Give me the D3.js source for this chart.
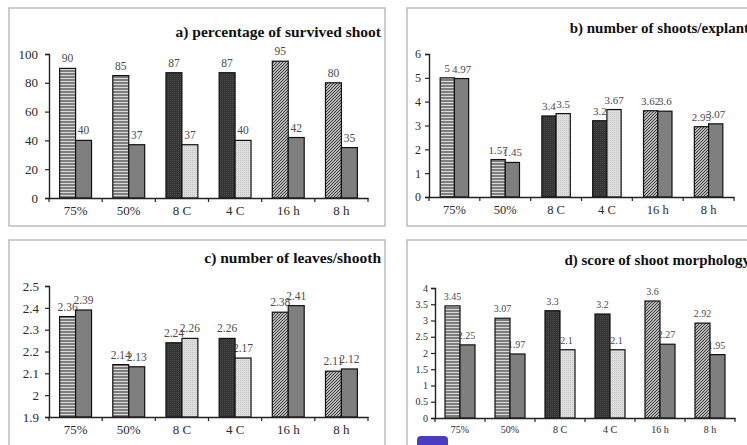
<!DOCTYPE html>
<html>
<head>
<meta charset="utf-8">
<script src="https://cdn.jsdelivr.net/npm/d3@7"></script>
<style>
  body { margin: 0; background: #fff; }
  svg { display: block; }
</style>
</head>
<body>
<div id="chart"></div>
<script>
// treatments on the x axis
var categories = ["75%", "50%", "8 C", "4 C", "16 h", "8 h"]

// a) percentage of survived shoot
var survivedFirst = [90, 85, 87, 87, 95, 80]
var survivedSecond = [40, 37, 37, 40, 42, 35]
var survivedTicks = [0, 20, 40, 60, 80, 100]

// b) number of shoots/explant
var shootsFirst = [5, 1.57, 3.4, 3.2, 3.62, 2.95]
var shootsSecond = [4.97, 1.45, 3.5, 3.67, 3.6, 3.07]
var shootsTicks = [0, 1, 2, 3, 4, 5, 6]

// c) number of leaves/shooth
var leavesFirst = [2.36, 2.14, 2.24, 2.26, 2.38, 2.11]
var leavesSecond = [2.39, 2.13, 2.26, 2.17, 2.41, 2.12]
var leavesTicks = [1.9, 2, 2.1, 2.2, 2.3, 2.4, 2.5]

// d) score of shoot morphology
var morphFirst = [3.45, 3.07, 3.3, 3.2, 3.6, 2.92]
var morphSecond = [2.25, 1.97, 2.1, 2.1, 2.27, 1.95]
var morphTicks = [0, 0.5, 1, 1.5, 2, 2.5, 3, 3.5, 4]

var w = 747
var h = 445

var svg = d3.select("#chart")
            .append("svg")
            .attr("width", w)
            .attr("height", h)

// bar fills
var defs = svg.append("defs")

var hs = defs.append("pattern").attr("id", "hstripe")
    .attr("width", 4).attr("height", 3).attr("patternUnits", "userSpaceOnUse")
hs.append("rect").attr("width", 4).attr("height", 3).attr("fill", "#7e7e7e")
hs.append("rect").attr("width", 4).attr("height", 1).attr("fill", "#d8d8d8")

var dk = defs.append("pattern").attr("id", "dark")
    .attr("width", 2).attr("height", 2).attr("patternUnits", "userSpaceOnUse")
dk.append("rect").attr("width", 2).attr("height", 2).attr("fill", "#353535")
dk.append("rect").attr("width", 1).attr("height", 1).attr("fill", "#4a4a4a")

var dg = defs.append("pattern").attr("id", "diag")
    .attr("width", 3).attr("height", 3).attr("patternUnits", "userSpaceOnUse")
dg.append("rect").attr("width", 3).attr("height", 3).attr("fill", "#f2f2f2")
dg.append("path").attr("d", "M-1,1 L1,-1 M0,3 L3,0 M2,4 L4,2")
  .attr("stroke", "#2e2e2e").attr("stroke-width", 1.1)

var lt = defs.append("pattern").attr("id", "light")
    .attr("width", 2).attr("height", 2).attr("patternUnits", "userSpaceOnUse")
lt.append("rect").attr("width", 2).attr("height", 2).attr("fill", "#dedede")
lt.append("rect").attr("width", 1).attr("height", 1).attr("fill", "#c6c6c6")

var firstFill = ["url(#hstripe)", "url(#hstripe)", "url(#dark)", "url(#dark)", "url(#diag)", "url(#diag)"]
var secondFill = ["#7f7f7f", "#7f7f7f", "url(#light)", "url(#light)", "#7f7f7f", "#7f7f7f"]

var serif = "'Times New Roman', 'Liberation Serif', 'DejaVu Serif', 'Noto Serif', Times, serif"

function panel (p) {
  var g = svg.append("g")

  // frame
  g.append("rect")
   .attr("x", p.box[0]).attr("y", p.box[1])
   .attr("width", p.box[2]).attr("height", p.box[3])
   .attr("fill", "#fff")
   .attr("stroke", "#bdbdbd")
   .attr("stroke-width", 1.5)

  g.append("text")
   .text(p.title)
   .attr("x", p.titleX).attr("y", p.titleY)
   .attr("text-anchor", "end")
   .style("font-family", serif)
   .attr("font-weight", "bold")
   .attr("font-size", p.titleSize + "px")
   .attr("fill", "#111")

  var x = d3.scaleBand()
      .domain(categories)
      .range(p.xRange)
      .paddingInner(p.pad)
      .paddingOuter(p.pad / 2)

  var y = d3.scaleLinear()
      .domain(p.domain)
      .range(p.yRange)

  var half = x.bandwidth() / 2

  var rows = categories.map((c, i) => ({ c: c, i: i, a: p.first[i], b: p.second[i] }))

  // value labels (bars are drawn over them)
  g.selectAll(".la")
   .data(rows).enter()
   .append("text")
   .text(d => d.a)
   .attr("x", d => x(d.c) + half / 2)
   .attr("y", d => y(d.a) - 6)
   .attr("text-anchor", "middle")
   .style("font-family", serif)
   .attr("font-size", p.labelSize + "px")
   .attr("fill", "#4a4a4a")

  g.selectAll(".lb")
   .data(rows).enter()
   .append("text")
   .text(d => d.b)
   .attr("x", d => x(d.c) + half * 1.5 + p.shiftB)
   .attr("y", d => y(d.b) - 6)
   .attr("text-anchor", "middle")
   .style("font-family", serif)
   .attr("font-size", p.labelSize + "px")
   .attr("fill", "#4a4a4a")

  var base = y(p.domain[0])

  g.selectAll(".ba")
   .data(rows).enter()
   .append("rect")
   .attr("x", d => x(d.c))
   .attr("y", d => y(d.a))
   .attr("width", half)
   .attr("height", d => base - y(d.a))
   .attr("fill", d => firstFill[d.i])
   .attr("stroke", "#111")
   .attr("stroke-width", 1.2)

  g.selectAll(".bb")
   .data(rows).enter()
   .append("rect")
   .attr("x", d => x(d.c) + half)
   .attr("y", d => y(d.b))
   .attr("width", half)
   .attr("height", d => base - y(d.b))
   .attr("fill", d => secondFill[d.i])
   .attr("stroke", "#111")
   .attr("stroke-width", 1.2)

  // y axis
  var ay = g.append("g")
      .attr("transform", "translate(" + p.xRange[0] + ",0)")
      .call(d3.axisLeft(y).tickValues(p.ticks).tickSize(4).tickPadding(p.tickPad).tickFormat(d3.format("~g")))
  ay.select(".domain").attr("stroke", "#222").attr("stroke-width", 1.4)
  ay.selectAll("line").attr("stroke", "#222").attr("stroke-width", 1.2)
  ay.selectAll("text")
    .style("font-family", serif)
    .attr("font-size", p.tickSize + "px")
    .attr("fill", "#2a2a2a")

  // x axis, ticks sit between the groups
  var ax = g.append("g")
      .attr("transform", "translate(0," + base + ")")
      .call(d3.axisBottom(x).tickSize(0).tickPadding(p.xPad))
  ax.select(".domain").attr("stroke", "#222").attr("stroke-width", 1.4)
  ax.selectAll("text")
    .style("font-family", serif)
    .attr("font-size", p.xSize + "px")
    .attr("fill", "#2a2a2a")

  var edges = categories.map(c => x(c) - x.step() * p.pad / 2)
  edges.push(x(categories[categories.length - 1]) + x.bandwidth() + x.step() * p.pad / 2)
  g.selectAll(".xt")
   .data(edges).enter()
   .append("line")
   .attr("x1", d => d).attr("x2", d => d)
   .attr("y1", base).attr("y2", base + 4)
   .attr("stroke", "#222")
   .attr("stroke-width", 1.2)
}

panel({
  title: "a) percentage of survived shoot",
  first: survivedFirst, second: survivedSecond, ticks: survivedTicks,
  box: [9, 8, 376, 218], titleX: 381, titleY: 37, titleSize: 15.5,
  xRange: [49, 368], yRange: [198, 54], domain: [0, 100], pad: 0.4,
  labelSize: 11.5, tickSize: 13, xSize: 13, tickPad: 7, xPad: 8, shiftB: 0
})

panel({
  title: "b) number of shoots/explant",
  first: shootsFirst, second: shootsSecond, ticks: shootsTicks,
  box: [407, 8, 345, 218], titleX: 749, titleY: 33, titleSize: 15,
  xRange: [429, 734], yRange: [197, 54], domain: [0, 6], pad: 0.44,
  labelSize: 11, tickSize: 12, xSize: 12.5, tickPad: 4, xPad: 8, shiftB: 0
})

panel({
  title: "c) number of leaves/shooth",
  first: leavesFirst, second: leavesSecond, ticks: leavesTicks,
  box: [9, 240, 376, 215], titleX: 381, titleY: 263, titleSize: 15.5,
  xRange: [49, 368], yRange: [417, 286], domain: [1.9, 2.5], pad: 0.4,
  labelSize: 11.5, tickSize: 13, xSize: 13, tickPad: 6, xPad: 8, shiftB: 0
})

panel({
  title: "d) score of shoot morphology",
  first: morphFirst, second: morphSecond, ticks: morphTicks,
  box: [407, 240, 345, 215], titleX: 750, titleY: 265, titleSize: 15,
  xRange: [435, 735], yRange: [418, 288], domain: [0, 4], pad: 0.4,
  labelSize: 10, tickSize: 10, xSize: 10, tickPad: 3, xPad: 8, shiftB: -1
})

// page badge at the bottom edge
svg.append("rect")
   .attr("x", 417).attr("y", 436)
   .attr("width", 31).attr("height", 16)
   .attr("rx", 4)
   .attr("fill", "#4a3dc2")
</script>
</body>
</html>
